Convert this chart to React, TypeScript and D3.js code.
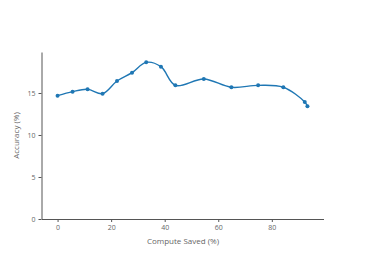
import * as d3 from "d3";
import React, { useEffect, useRef } from "react";

const computeSaved = [0, 5.6, 11.2, 16.8, 22.2, 27.8, 33.1, 38.6, 44, 54.6, 64.9, 74.9, 84.3, 92.3, 93.3];
const accuracy = [14.68, 15.16, 15.44, 14.92, 16.43, 17.42, 18.65, 18.13, 15.91, 16.67, 15.68, 15.91, 15.68, 13.93, 13.41];
const xTicks = [0, 20, 40, 60, 80];
const yTicks = [0, 5, 10, 15];

const W = 366;
const H = 261;

function drawChart(el: SVGSVGElement) {
  const svg = d3.select(el);
  svg.selectAll("*").remove();

  // plot area
  const left = 41.5, right = 323.5, top = 52, bottom = 219;

  const x = d3.scaleLinear().domain([-6, 99.3]).range([left, right]);
  const y = d3.scaleLinear().domain([0, 19.88]).range([bottom, top]);

  const font = "'Open Sans', sans-serif";
  const axisColor = "#555";
  const textColor = "#666";

  // x axis
  const gx = svg.append("g").attr("transform", `translate(0,${bottom})`);
  gx.call(d3.axisBottom(x).tickValues(xTicks).tickSize(3).tickSizeOuter(0).tickPadding(3));
  gx.select(".domain").attr("stroke", axisColor);
  gx.selectAll(".tick line").attr("stroke", axisColor);
  gx.selectAll(".tick text").attr("fill", textColor).style("font-size", "7px").style("font-family", font);

  // y axis
  const gy = svg.append("g").attr("transform", `translate(${left},0)`);
  gy.call(d3.axisLeft(y).tickValues(yTicks).tickSize(3).tickSizeOuter(0).tickPadding(3));
  gy.select(".domain").attr("stroke", axisColor);
  gy.selectAll(".tick line").attr("stroke", axisColor);
  gy.selectAll(".tick text").attr("fill", textColor).style("font-size", "7px").style("font-family", font);

  // axis titles
  svg
    .append("text")
    .attr("x", 183)
    .attr("y", 244)
    .attr("text-anchor", "middle")
    .attr("fill", textColor)
    .style("font-size", "8px")
    .style("font-family", font)
    .text("Compute Saved (%)");

  svg
    .append("text")
    .attr("transform", `translate(19,${(top + bottom) / 2}) rotate(-90)`)
    .attr("text-anchor", "middle")
    .attr("fill", textColor)
    .style("font-size", "8px")
    .style("font-family", font)
    .text("Accuracy (%)");

  const data = computeSaved.map((d, i) => ({ x: d, y: accuracy[i] }));

  const line = d3
    .line<{ x: number; y: number }>()
    .x(d => x(d.x))
    .y(d => y(d.y))
    .curve(d3.curveCatmullRom.alpha(0.5));

  svg
    .append("path")
    .datum(data)
    .attr("d", line)
    .attr("fill", "none")
    .attr("stroke", "#1f77b4")
    .attr("stroke-width", 1.4);

  svg
    .append("g")
    .selectAll("circle")
    .data(data)
    .join("circle")
    .attr("cx", d => x(d.x))
    .attr("cy", d => y(d.y))
    .attr("r", 2)
    .attr("fill", "#1f77b4");
}

export default function App() {
  const ref = useRef<SVGSVGElement>(null);

  useEffect(() => {
    if (ref.current) drawChart(ref.current);
  }, []);

  return (
    <svg
      ref={ref}
      width={W}
      height={H}
      style={{ position: "absolute", left: 0, top: 0, background: "#fff" }}
    />
  );
}
